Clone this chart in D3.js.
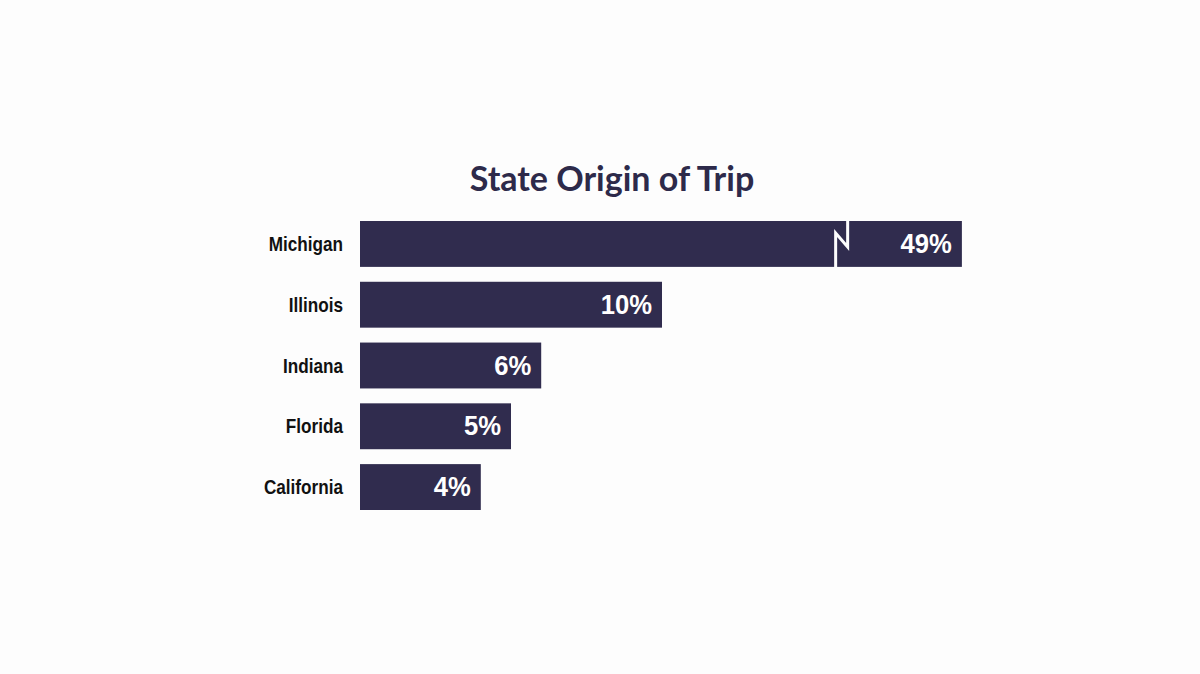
<!DOCTYPE html>
<html>
<head>
<meta charset="utf-8">
<script src="https://cdn.jsdelivr.net/npm/d3@7"></script>
<style>
  body { margin: 0; background: #fdfdfd; }
  svg { display: block; }
</style>
</head>
<body>
<div id="chart"></div>
<script>
var states = ["Michigan", "Illinois", "Indiana", "Florida", "California"];
var shares = [49, 10, 6, 5, 4];
var valueLabels = ["49%", "10%", "6%", "5%", "4%"];

var width = 1200, height = 674;
var barColor = "#302c4e";
// bars longer than this get cut with a break mark
var axisBreak = 19.93, breakMark = 15.75;

var svg = d3.select("#chart").append("svg")
    .attr("width", width).attr("height", height);

svg.append("rect").attr("width", width).attr("height", height).attr("fill", "#fdfdfd");

var x = d3.scaleLinear().domain([0, 10]).range([360, 662]);
var y = d3.scaleBand().domain(states).range([221, 510]).paddingInner(0.245).paddingOuter(0);

svg.append("text")
    .attr("x", 612).attr("y", 191)
    .attr("text-anchor", "middle")
    .style("font-family", "Lato, 'Open Sans', sans-serif")
    .style("font-weight", "700")
    .style("font-size", "34px")
    .style("fill", "#2d2a4a")
    .text("State Origin of Trip");

var rows = svg.append("g").selectAll("g")
    .data(states)
    .enter().append("g");

rows.append("rect")
    .attr("x", x(0))
    .attr("y", d => y(d))
    .attr("width", (d, i) => x(Math.min(shares[i], axisBreak)) - x(0))
    .attr("height", y.bandwidth())
    .style("fill", barColor);

// state names (squeezed to look like a condensed face)
rows.append("text")
    .attr("transform", d => "translate(343," + (y(d) + y.bandwidth() / 2 + 7) + ") scale(0.88,1)")
    .attr("text-anchor", "end")
    .style("font-family", "'Liberation Sans', Arial, sans-serif")
    .style("font-weight", "700")
    .style("font-size", "19.5px")
    .style("fill", "#111")
    .text(d => d);

// values inside the bars
rows.append("text")
    .attr("transform", (d, i) => "translate(" + (x(Math.min(shares[i], axisBreak)) - 10) + "," + (y(d) + y.bandwidth() / 2 + 9) + ") scale(0.95,1)")
    .attr("text-anchor", "end")
    .style("font-family", "'Liberation Sans', Arial, sans-serif")
    .style("font-weight", "700")
    .style("font-size", "27px")
    .style("fill", "#ffffff")
    .text((d, i) => valueLabels[i]);

// break mark on cut bars
states.forEach((s, i) => {
    if (shares[i] <= axisBreak) return;
    var bx = x(breakMark), top = y(s), bot = y(s) + y.bandwidth();
    svg.append("path")
        .attr("d", d3.line()([[bx, bot + 1], [bx, top + 12], [bx + 12, top + 26], [bx + 12, top - 1]]))
        .style("fill", "none")
        .style("stroke", "#fdfdfd")
        .style("stroke-width", 3);
});
</script>
</body>
</html>
